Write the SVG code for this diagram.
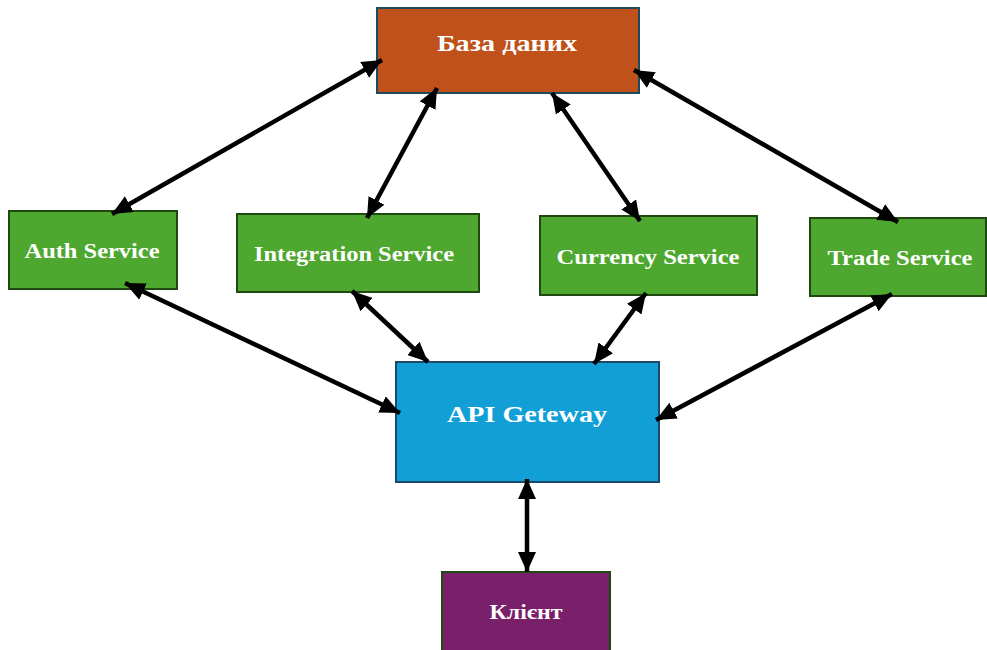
<svg xmlns="http://www.w3.org/2000/svg" width="987" height="650" viewBox="0 0 987 650">
  <style>
    .box { stroke-width: 2; }
    .svc { fill: #4EA72E; stroke: #1E4A12; }
    .lbl { font-family: "Liberation Serif", "Times New Roman", serif; font-weight: bold; fill: #FFFFFF; text-anchor: middle; dominant-baseline: central; }
    .conn line { stroke: #000000; stroke-width: 4.5; marker-start: url(#head); marker-end: url(#head); }
  </style>
  <defs>
    <!-- filled triangular arrowhead, tip at the line end -->
    <marker id="head" markerUnits="userSpaceOnUse" markerWidth="22" markerHeight="20" refX="20" refY="9" orient="auto-start-reverse">
      <path d="M0,0 L20,9 L0,18 z" fill="#000000"/>
    </marker>
  </defs>

  <g id="db">
    <rect class="box" x="377" y="8" width="262" height="85" fill="#C0511A" stroke="#1D4A5C"/>
    <text class="lbl" x="507" y="43" font-size="23" textLength="140" lengthAdjust="spacingAndGlyphs">База даних</text>
  </g>
  <g id="auth">
    <rect class="box svc" x="9" y="211" width="168" height="78"/>
    <text class="lbl" x="92" y="251" font-size="20" textLength="135" lengthAdjust="spacingAndGlyphs">Auth Service</text>
  </g>
  <g id="integration">
    <rect class="box svc" x="237" y="214" width="242" height="78"/>
    <text class="lbl" x="354" y="254" font-size="20" textLength="200" lengthAdjust="spacingAndGlyphs">Integration Service</text>
  </g>
  <g id="currency">
    <rect class="box svc" x="540" y="216" width="217" height="79"/>
    <text class="lbl" x="648" y="257" font-size="20" textLength="183" lengthAdjust="spacingAndGlyphs">Currency Service</text>
  </g>
  <g id="trade">
    <rect class="box svc" x="810" y="218" width="176" height="78"/>
    <text class="lbl" x="900" y="258" font-size="20" textLength="145" lengthAdjust="spacingAndGlyphs">Trade Service</text>
  </g>
  <g id="gateway">
    <rect class="box" x="396" y="362" width="263" height="120" fill="#119FD6" stroke="#1D4A6C"/>
    <text class="lbl" x="527" y="414" font-size="23" textLength="160" lengthAdjust="spacingAndGlyphs">API Geteway</text>
  </g>
  <g id="client">
    <rect class="box" x="442" y="572" width="168" height="80" fill="#7A1F6A" stroke="#1E4A12"/>
    <text class="lbl" x="526" y="612" font-size="20" textLength="73" lengthAdjust="spacingAndGlyphs">Клієнт</text>
  </g>

  <g id="connectors" class="conn">
    <line x1="382" y1="60" x2="112" y2="214"/>
    <line x1="437" y1="88" x2="367" y2="218"/>
    <line x1="552" y1="93" x2="640" y2="221"/>
    <line x1="634" y1="70" x2="898" y2="222"/>
    <line x1="125" y1="283" x2="400" y2="413"/>
    <line x1="352" y1="291" x2="428" y2="362"/>
    <line x1="646" y1="293" x2="594" y2="364"/>
    <line x1="892" y1="294" x2="656" y2="420"/>
    <line x1="527" y1="479" x2="527" y2="572"/>
  </g>
</svg>
